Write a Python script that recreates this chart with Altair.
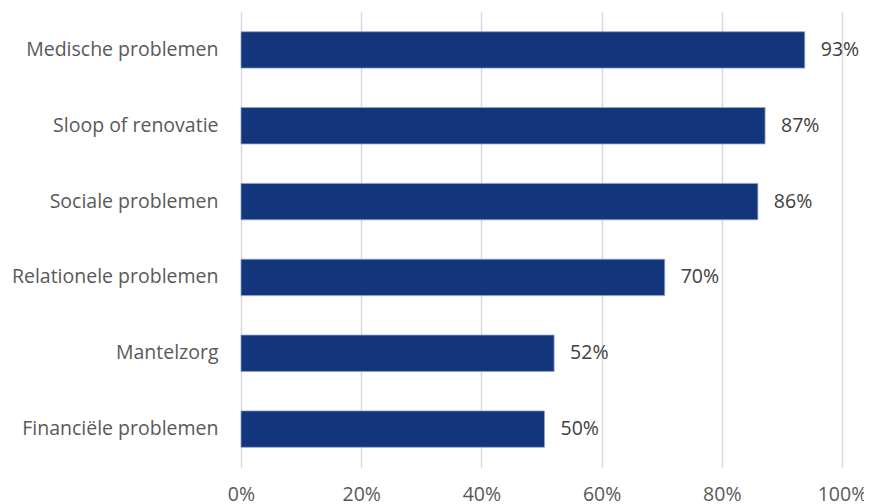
import altair as alt
import pandas as pd

categories = ["Medische problemen", "Sloop of renovatie", "Sociale problemen",
              "Relationele problemen", "Mantelzorg", "Financiële problemen"]
values = [93.8, 87.2, 86.0, 70.5, 52.1, 50.5]
labels = ["93%", "87%", "86%", "70%", "52%", "50%"]
x_ticks = [0, 20, 40, 60, 80, 100]

df = pd.DataFrame({"cat": categories, "val": values, "lab": labels})

FONT = "Open Sans"
TXT = "#595959"
FS = 19.5

y_enc = alt.Y("cat:N", sort=categories, title=None,
              scale=alt.Scale(paddingInner=0.52, paddingOuter=0.26),
              axis=alt.Axis(labelFont=FONT, labelFontSize=FS, labelColor=TXT,
                            labelPadding=23, labelLimit=400, ticks=False,
                            domain=False, grid=False))
x_enc = alt.X("val:Q", title=None,
              scale=alt.Scale(domain=[0, 100], nice=False),
              axis=alt.Axis(values=x_ticks, labelExpr="datum.value + '%'",
                            labelFont=FONT, labelFontSize=FS, labelColor=TXT,
                            labelPadding=18, labelFlush=False, labelOverlap=False,
                            ticks=False, domain=False,
                            grid=True, gridColor="#d9d9d9", gridWidth=1.5))

bars = alt.Chart(df).mark_bar(color="#12357b", stroke="#8fa3c9", strokeWidth=0.8).encode(
    y=y_enc, x=x_enc)
text = alt.Chart(df).mark_text(align="left", baseline="middle", dx=16,
                               font=FONT, fontSize=FS, color="#404040").encode(
    y=alt.Y("cat:N", sort=categories), x="val:Q", text="lab:N")

chart = (bars + text).properties(
    width=601, height=455,
    autosize=alt.AutoSizeParams(type="none"),
    padding={"left": 233, "top": 4, "right": 22, "bottom": 37},
).configure_view(stroke=None)

chart.save("out.html", embed_options={"renderer": "svg", "actions": False})
